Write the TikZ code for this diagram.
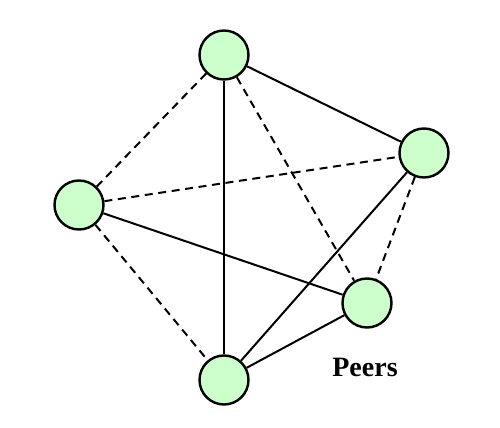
\documentclass[tikz,border=0pt]{standalone}
\usepackage{fontspec}
\setmainfont{Liberation Serif}
\usepackage{xcolor,tikz}
\definecolor{peergreen}{RGB}{204,255,204}

\begin{document}
\begin{tikzpicture}[x=0.5pt,y=-0.5pt,
  peer/.style={circle,draw=black,fill=peergreen,line width=1.2pt,minimum size=24.5pt,inner sep=0pt},
  solidlink/.style={line width=1pt},
  dashlink/.style={line width=1pt,dash pattern=on 4pt off 2.8pt}]
\useasboundingbox (0,0) rectangle (500,428);
% the five peers
\node[peer] (top) at (224,55) {};
\node[peer] (right) at (424,153) {};
\node[peer] (left) at (79,205) {};
\node[peer] (lowright) at (367,303) {};
\node[peer] (bottom) at (224,380) {};
\foreach \a/\b in {top/bottom,top/right,left/lowright,right/bottom,lowright/bottom}
  \draw[solidlink] (\a) -- (\b);
\foreach \a/\b in {top/left,top/lowright,left/right,left/bottom,right/lowright}
  \draw[dashlink] (\a) -- (\b);
\node[font=\fontsize{14}{16}\selectfont\bfseries] (peers) at (365,367) {Peers};
\end{tikzpicture}
\end{document}
